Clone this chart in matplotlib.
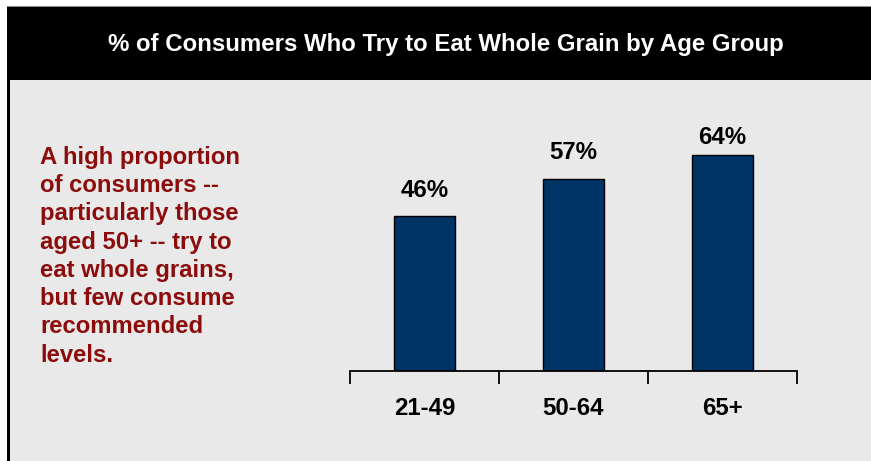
import matplotlib.pyplot as plt
from matplotlib.patches import Rectangle

plt.rcParams['font.family'] = ['Liberation Sans', 'DejaVu Sans']

groups = ['21-49', '50-64', '65+']
shares = [46, 57, 64]
title = '% of Consumers Who Try to Eat Whole Grain by Age Group'
note = ('A high proportion\nof consumers --\nparticularly those\naged 50+ -- try to\n'
        'eat whole grains,\nbut few consume\nrecommended\nlevels.')

W, H = 871, 461
fig = plt.figure(figsize=(W / 100, H / 100), dpi=100)
fig.patch.set_facecolor('white')

def box(x0, y0, x1, y1, **kw):
    # rectangle given in pixel coords measured from the top-left corner
    fig.patches.append(Rectangle((x0 / W, 1 - y1 / H), (x1 - x0) / W, (y1 - y0) / H,
                                 transform=fig.transFigure, figure=fig, zorder=-5, **kw))

box(7, 80, W, H, facecolor='#e9e9e9', edgecolor='none')
box(7, 7, W, 80, facecolor='black', edgecolor='none')
box(7, 6, W, 7.5, facecolor='#888888', edgecolor='none')
box(7, 7, 9.5, H, facecolor='black', edgecolor='none')

fig.text(446 / W, 1 - 44 / H, title, color='white', fontsize=17.3, fontweight='bold',
         ha='center', va='center')
fig.text(40 / W, 1 - 146 / H, note, color='#8c0c0c', fontsize=17.2, fontweight='bold',
         ha='left', va='top', linespacing=1.29)

ax = fig.add_axes([350 / W, 90 / H, 447 / W, 270 / H])
ax.set_facecolor('none')
x = range(len(groups))
bars = ax.bar(x, shares, width=0.41, color='#003366', edgecolor='black', linewidth=1)
for b, v in zip(bars, shares):
    # labels sit above the bars but stay inside the plot area
    ax.text(b.get_x() + b.get_width() / 2, min(v + 5.7, 67.3), f'{v}%', ha='center',
            va='baseline', fontsize=17.3, fontweight='bold')

ax.set_xlim(-0.5, 2.5)
ax.set_ylim(0, 80)
for s in ['top', 'right', 'left']:
    ax.spines[s].set_visible(False)
ax.spines['bottom'].set_linewidth(1.3)
ax.set_yticks([])
ax.set_xticks([-0.5, 0.5, 1.5, 2.5])
ax.set_xticklabels([])
ax.tick_params(axis='x', direction='out', length=9, width=1.3)
ax.set_xticks(list(x), minor=True)
ax.set_xticklabels(groups, minor=True, fontsize=17.3, fontweight='bold')
ax.tick_params(axis='x', which='minor', length=0, pad=19)

fig.savefig('out.png', dpi=100)
